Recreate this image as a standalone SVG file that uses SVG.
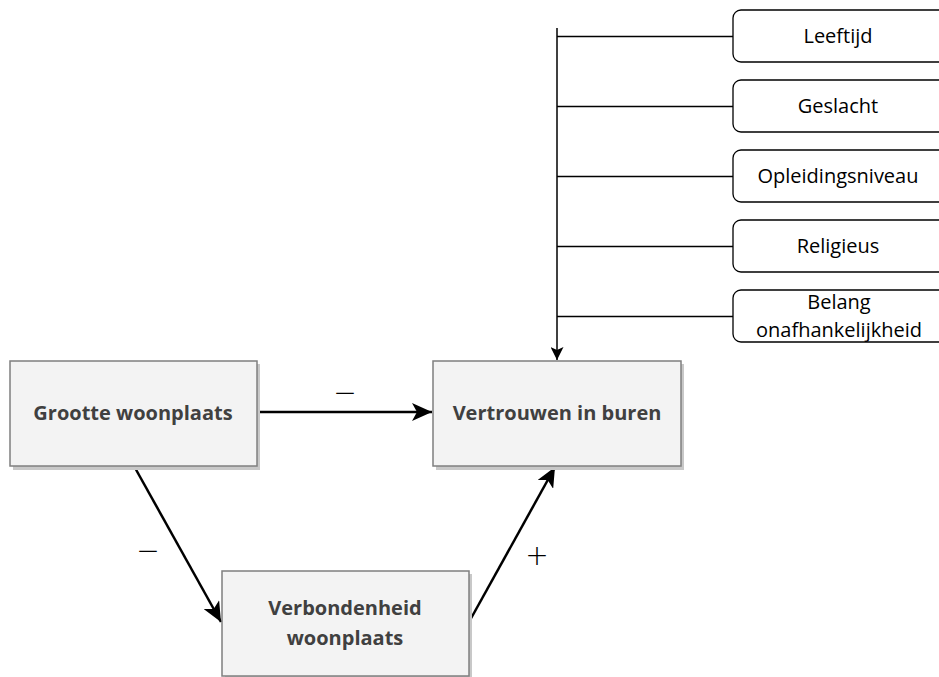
<svg xmlns="http://www.w3.org/2000/svg" width="939" height="677" viewBox="0 0 939 677">
<style>
.box{fill:#f3f3f3;stroke:#7f7f7f;stroke-width:1.5}
.shadow{fill:#c8c8c8}
.lbl{font-family:"Open Sans","Liberation Sans",sans-serif;font-size:20px;font-weight:bold;fill:#404040;text-anchor:middle}
.cov{fill:#fff;stroke:#000;stroke-width:1.3}
.ctext{font-family:"Open Sans","Liberation Sans",sans-serif;font-size:20px;fill:#000;text-anchor:middle}
.conn{stroke:#000;stroke-width:2.5;fill:none}
.thin{stroke:#000;stroke-width:1.5;fill:none}
.sign{font-family:"DejaVu Sans",sans-serif;font-size:28px;font-weight:200;fill:#000;text-anchor:middle}
</style>
<defs>
<marker id="ah" viewBox="0 0 20 18" refX="20" refY="9" markerWidth="20" markerHeight="18" markerUnits="userSpaceOnUse" orient="auto">
<path d="M0,0 L20,9 L0,18 L5,9 Z" fill="#000"/>
</marker>
<marker id="ahs" viewBox="0 0 13 13" refX="13" refY="6.5" markerWidth="13" markerHeight="13" markerUnits="userSpaceOnUse" orient="auto">
<path d="M0,0 L13,6.5 L0,13 L3,6.5 Z" fill="#000"/>
</marker>
</defs>
<g id="connectors">
<line class="conn" x1="257" y1="412" x2="432" y2="412" marker-end="url(#ah)"/>
<line class="conn" x1="134" y1="466" x2="221" y2="622" marker-end="url(#ah)"/>
<line class="conn" x1="469" y1="622" x2="555" y2="467" marker-end="url(#ah)"/>
<line class="thin" x1="557" y1="28" x2="557" y2="360" marker-end="url(#ahs)"/>
<line class="thin" x1="557" y1="36.5" x2="733" y2="36.5"/>
<line class="thin" x1="557" y1="106.5" x2="733" y2="106.5"/>
<line class="thin" x1="557" y1="176.5" x2="733" y2="176.5"/>
<line class="thin" x1="557" y1="246.5" x2="733" y2="246.5"/>
<line class="thin" x1="557" y1="316.5" x2="733" y2="316.5"/>
<text class="sign" x="345" y="402">−</text>
<text class="sign" x="148" y="560">−</text>
<text class="sign" x="537" y="565">+</text>
</g>
<g id="grootte">
<rect class="shadow" x="13" y="364" width="247" height="106"/>
<rect class="box" x="10" y="361" width="247" height="105"/>
<text class="lbl" x="133" y="420">Grootte woonplaats</text>
</g>
<g id="vertrouwen">
<rect class="shadow" x="436" y="364" width="248" height="106"/>
<rect class="box" x="433" y="361" width="248" height="105"/>
<text class="lbl" x="557" y="420">Vertrouwen in buren</text>
</g>
<g id="verbondenheid">
<rect class="shadow" x="225" y="574" width="247" height="106"/>
<rect class="box" x="222" y="571" width="247" height="105"/>
<text class="lbl" x="345" y="615">Verbondenheid</text>
<text class="lbl" x="345" y="645">woonplaats</text>
</g>
<g id="leeftijd">
<rect class="cov" x="733" y="10" width="215" height="52" rx="8"/>
<text class="ctext" x="838" y="43">Leeftijd</text>
</g>
<g id="geslacht">
<rect class="cov" x="733" y="80" width="215" height="52" rx="8"/>
<text class="ctext" x="838" y="113">Geslacht</text>
</g>
<g id="opleidingsniveau">
<rect class="cov" x="733" y="150" width="215" height="52" rx="8"/>
<text class="ctext" x="838" y="183">Opleidingsniveau</text>
</g>
<g id="religieus">
<rect class="cov" x="733" y="220" width="215" height="52" rx="8"/>
<text class="ctext" x="838" y="253">Religieus</text>
</g>
<g id="belang">
<rect class="cov" x="733" y="290" width="215" height="52" rx="8"/>
<text class="ctext" x="839" y="309">Belang</text>
<text class="ctext" x="839" y="337">onafhankelijkheid</text>
</g>
</svg>
